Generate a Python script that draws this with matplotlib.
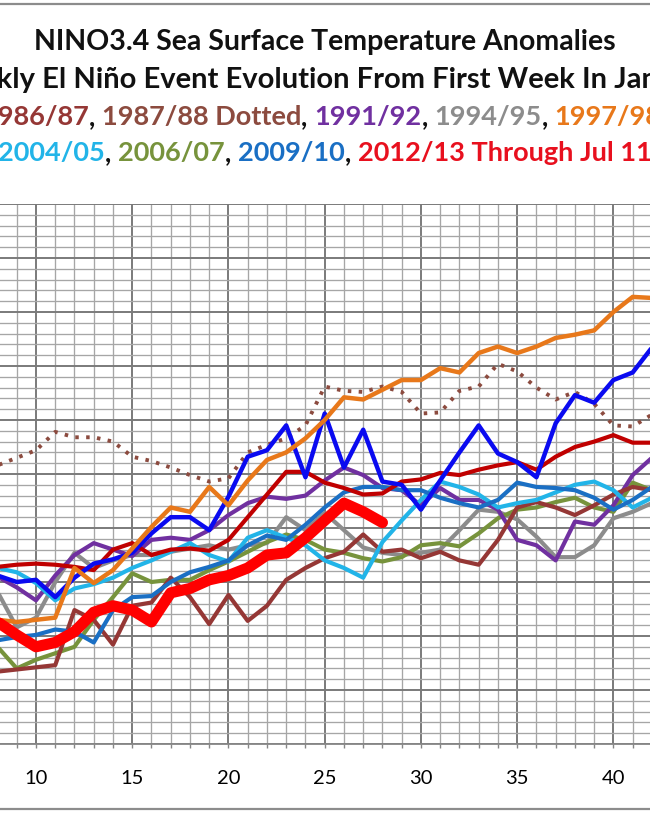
import numpy as np
import matplotlib
matplotlib.use('Agg')
import matplotlib.pyplot as plt
from matplotlib.offsetbox import TextArea, HPacker, AnnotationBbox
from matplotlib.lines import Line2D
from matplotlib.ticker import MultipleLocator

# weeks from first week in January
weeks = list(range(8, 43))
weeks_2012 = list(range(8, 29))

# NINO3.4 weekly anomalies (deg C)
nino_8283 = [0.06, 0.00, 0.02, -0.14, 0.04, 0.17, 0.21, 0.27, 0.45, 0.60, 0.60, 0.48, 0.79,
             1.16, 1.22, 1.45, 0.97, 1.56, 1.06, 1.41, 0.93, 0.90, 0.67, 0.94, 1.20, 1.45,
             1.19, 1.11, 0.97, 1.47, 1.73, 1.66, 1.87, 1.94, 2.17]
nino_8687 = [-0.83, -0.81, -0.79, -0.77, -0.26, -0.35, -0.58, -0.22, -0.19, 0.04, -0.14, -0.39,
             -0.12, -0.36, -0.22, 0.02, 0.13, 0.22, 0.28, 0.44, 0.28, 0.30, 0.22, 0.28, 0.20,
             0.16, 0.39, 0.69, 0.74, 0.69, 0.62, 0.71, 0.81, 0.88, 0.85]
nino_8788 = [1.08, 1.15, 1.22, 1.39, 1.34, 1.34, 1.30, 1.16, 1.12, 1.06, 0.99, 0.93, 0.96,
             1.20, 1.27, 1.33, 1.45, 1.81, 1.77, 1.76, 1.81, 1.76, 1.56, 1.57, 1.77, 1.81,
             2.02, 1.95, 1.80, 1.69, 1.76, 1.65, 1.45, 1.44, 1.55]
nino_9192 = [0.05, -0.05, -0.17, 0.06, 0.25, 0.36, 0.30, 0.24, 0.39, 0.41, 0.39, 0.48, 0.62,
             0.73, 0.79, 0.77, 0.80, 0.94, 1.06, 0.99, 0.87, 0.85, 0.71, 0.87, 0.76, 0.76,
             0.67, 0.39, 0.34, 0.20, 0.56, 0.53, 0.71, 0.99, 1.15]
nino_9495 = [-0.09, -0.42, -0.33, 0.00, 0.27, 0.13, 0.20, 0.25, 0.25, 0.28, 0.31, 0.34, 0.30,
             0.34, 0.36, 0.60, 0.48, 0.64, 0.48, 0.32, 0.27, 0.25, 0.27, 0.30, 0.48, 0.67,
             0.65, 0.58, 0.42, 0.23, 0.23, 0.34, 0.59, 0.65, 0.73]
nino_9798 = [-0.35, -0.37, -0.35, -0.33, 0.13, -0.01, 0.11, 0.31, 0.51, 0.69, 0.65, 0.88, 0.71,
             0.94, 1.13, 1.20, 1.33, 1.50, 1.71, 1.69, 1.78, 1.87, 1.87, 1.98, 1.94, 2.12,
             2.18, 2.12, 2.18, 2.26, 2.29, 2.33, 2.50, 2.64, 2.63]
nino_0203 = [0.14, 0.16, 0.17, 0.16, 0.14, 0.11, 0.30, 0.36, 0.25, 0.30, 0.31, 0.29, 0.39,
             0.60, 0.81, 1.02, 1.02, 0.92, 0.87, 0.81, 0.82, 0.93, 0.95, 1.01, 0.99, 1.04,
             1.08, 1.11, 1.04, 1.16, 1.25, 1.30, 1.36, 1.29, 1.29]
nino_0405 = [0.13, 0.09, -0.01, -0.17, -0.06, -0.02, 0.04, 0.13, 0.20, 0.28, 0.36, 0.25, 0.19,
             0.41, 0.48, 0.41, 0.34, 0.20, 0.13, 0.04, 0.37, 0.57, 0.76, 0.93, 0.88, 0.81,
             0.69, 0.73, 0.76, 0.83, 0.90, 0.93, 0.85, 0.69, 0.78]
nino_0607 = [-0.60, -0.80, -0.72, -0.66, -0.60, -0.35, -0.14, 0.08, 0.00, 0.02, 0.02, 0.11, 0.19,
             0.28, 0.37, 0.44, 0.39, 0.30, 0.27, 0.22, 0.19, 0.23, 0.34, 0.36, 0.33, 0.45,
             0.59, 0.67, 0.69, 0.74, 0.78, 0.69, 0.65, 0.92, 0.85]
nino_0910 = [-0.54, -0.51, -0.49, -0.44, -0.46, -0.56, -0.26, -0.14, -0.13, 0.00, 0.09, 0.14, 0.20,
             0.34, 0.43, 0.39, 0.53, 0.69, 0.83, 0.88, 0.88, 0.85, 0.85, 0.78, 0.73, 0.69,
             0.76, 0.92, 0.88, 0.87, 0.85, 0.78, 0.67, 0.76, 0.88]
nino_1213 = [-0.37, -0.49, -0.60, -0.56, -0.46, -0.28, -0.22, -0.26, -0.37, -0.10, -0.06, 0.02,
             0.06, 0.13, 0.25, 0.27, 0.41, 0.57, 0.73, 0.65, 0.55]

fig = plt.figure(figsize=(6.5, 8.13), dpi=100)
ax = fig.add_axes([0, 69 / 813, 1, 540 / 813])
ax.set_xlim(8.13, 41.9)
ax.set_ylim(-1.5, 3.5)

ax.xaxis.set_major_locator(MultipleLocator(5))
ax.xaxis.set_minor_locator(MultipleLocator(1))
ax.yaxis.set_major_locator(MultipleLocator(0.5))
ax.yaxis.set_minor_locator(MultipleLocator(0.1))
ax.grid(which='minor', color='#A6A6A6', lw=0.95)
ax.grid(which='major', color='#7A7A7A', lw=1.4)
ax.set_axisbelow(True)
ax.tick_params(axis='y', which='both', left=False, labelleft=False)
ax.tick_params(axis='x', which='both', direction='out', length=3, color='#868686', width=1)
ax.tick_params(axis='x', which='major', pad=16, labelsize=14.5)
for lab in ax.get_xticklabels():
    lab.set_family('Lato')
for s in ['left', 'right', 'top']:
    ax.spines[s].set_visible(False)
ax.spines['bottom'].set_color('#868686')
ax.spines['bottom'].set_linewidth(1.3)

kw = dict(solid_joinstyle='round', solid_capstyle='round')
ax.plot(weeks, nino_8788, color='#8C4B3F', lw=2.8, linestyle=(0, (0.9, 1.9)),
        dash_capstyle='butt')
ax.plot(weeks, nino_9495, color='#8C8C8C', lw=3.0, **kw)
ax.plot(weeks, nino_0607, color='#77933C', lw=3.0, **kw)
ax.plot(weeks, nino_9192, color='#7030A0', lw=3.0, **kw)
ax.plot(weeks, nino_8687, color='#953735', lw=3.0, **kw)
ax.plot(weeks, nino_0405, color='#22B4E8', lw=3.0, **kw)
ax.plot(weeks, nino_0910, color='#1A6FC4', lw=3.0, **kw)
ax.plot(weeks, nino_0203, color='#C00000', lw=3.0, **kw)
ax.plot(weeks, nino_8283, color='#0A0AF0', lw=3.2, **kw)
ax.plot(weeks, nino_9798, color='#E8781A', lw=3.2, **kw)
ax.plot(weeks_2012, nino_1213, color='#FF0000', lw=8, **kw)

# titles
tsize = 20.5
tfont = dict(fontsize=tsize, fontweight='bold', family='Lato')
fig.text(0.5, 1 - 42 / 813, 'NINO3.4 Sea Surface Temperature Anomalies',
         ha='center', va='center', color='#111111', **tfont)
fig.text(0.5, 1 - 80 / 813, 'Weekly El Niño Event Evolution From First Week In January',
         ha='center', va='center', color='#111111', fontsize=21, fontweight='bold',
         family='Lato')

csize = 19.5
cfont = dict(fontsize=csize, fontweight='bold', family='Lato')


def colored_line(parts, y_px, last_comma):
    boxes = []
    for i, (txt, col) in enumerate(parts):
        items = [TextArea(txt, textprops=dict(color=col, **cfont))]
        if i < len(parts) - 1 or last_comma:
            items.append(TextArea(',', textprops=dict(color='#111111', **cfont)))
        boxes.append(HPacker(children=items, sep=0, pad=0, align='baseline'))
    pack = HPacker(children=boxes, sep=csize * 0.25, pad=0, align='baseline')
    ab = AnnotationBbox(pack, (0.5, 1 - y_px / 813), xycoords='figure fraction',
                        frameon=False, box_alignment=(0.5, 0.5), pad=0)
    fig.add_artist(ab)


colored_line([('1986/87', '#953735'), ('1987/88 Dotted', '#8C4B3F'), ('1991/92', '#7030A0'),
              ('1994/95', '#8C8C8C'), ('1997/98', '#E8781A')], 117, True)
colored_line([('2004/05', '#22B4E8'), ('2006/07', '#77933C'), ('2009/10', '#1A6FC4'),
              ('2012/13 Through Jul 11', '#E8101E')], 153, False)

# chart border
for yb in (4, 809):
    fig.add_artist(Line2D([-0.01, 1.01], [1 - yb / 813] * 2, transform=fig.transFigure,
                          color='#8C8C8C', lw=1.6))

fig.savefig('out.png', dpi=100)
